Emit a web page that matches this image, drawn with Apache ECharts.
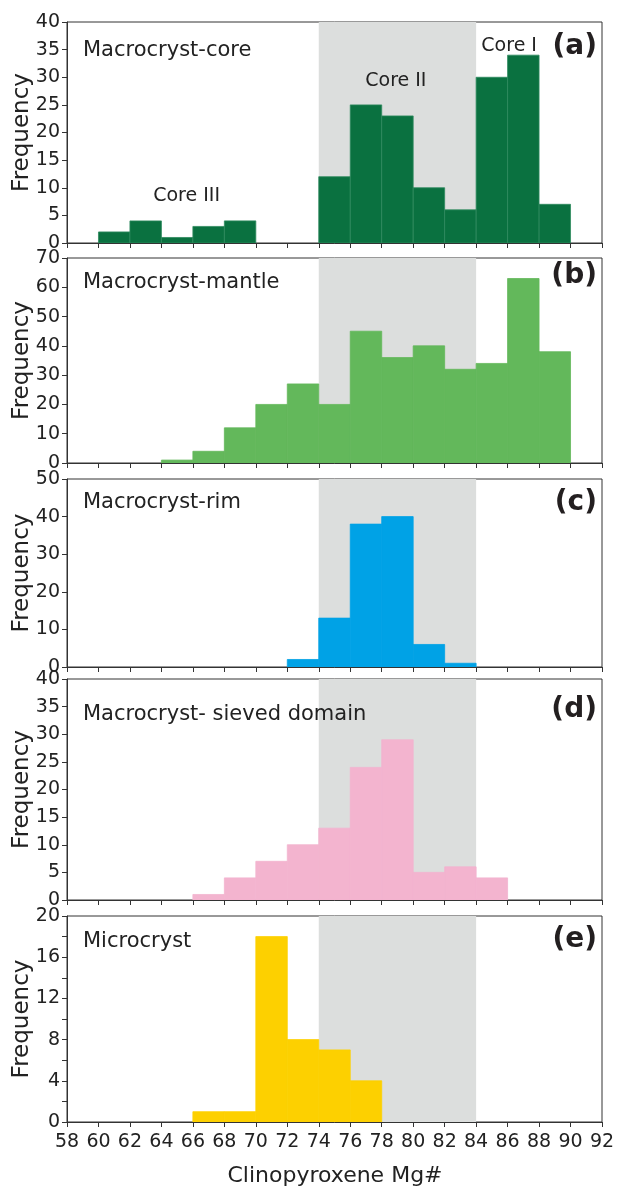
<!DOCTYPE html>
<html>
<head>
<meta charset="utf-8">
<script src="https://cdn.jsdelivr.net/npm/echarts@6/dist/echarts.min.js"></script>
<style>
  html, body { margin: 0; padding: 0; background: #fff; }
  #chart { width: 617px; height: 1188px; }
</style>
</head>
<body>
<div id="chart"></div>
<script>
// Histogram bins: 2-unit wide classes of clinopyroxene Mg#, starting at 58
const binStarts = [58, 60, 62, 64, 66, 68, 70, 72, 74, 76, 78, 80, 82, 84, 86, 88, 90];
const binWidth = 2;

// Frequencies per bin for each textural domain
const coreCounts   = [0, 2, 4, 1, 3, 4, 0, 0, 12, 25, 23, 10, 6, 30, 34, 7, 0];
const mantleCounts = [0, 0, 0, 1, 4, 12, 20, 27, 20, 45, 36, 40, 32, 34, 63, 38, 0];
const rimCounts    = [0, 0, 0, 0, 0, 0, 0, 2, 13, 38, 40, 6, 1, 0, 0, 0, 0];
const sievedCounts = [0, 0, 0, 0, 1, 4, 7, 10, 13, 24, 29, 5, 6, 4, 0, 0, 0];
const microCounts  = [0, 0, 0, 0, 1, 1, 18, 8, 7, 4, 0, 0, 0, 0, 0, 0, 0];

// Shaded Mg# range (Core II population)
const bandRange = [74, 84];

// Y-axis scales per panel
const yMax      = [40, 70, 50, 40, 20];
const yInterval = [5, 10, 10, 5, 2];

// X-axis range and ticks
const xMin = 58, xMax = 92, xInterval = 2;

// Panel annotations
const panelNames   = ['Macrocryst-core', 'Macrocryst-mantle', 'Macrocryst-rim', 'Macrocryst- sieved domain', 'Microcryst'];
const panelLetters = ['(a)', '(b)', '(c)', '(d)', '(e)'];
const coreLabelText = ['Core III', 'Core II', 'Core I'];
const coreLabelX    = [65.6, 78.9, 86.1];
const coreLabelY    = [8.5, 29.4, 35.6];

const counts = [coreCounts, mantleCounts, rimCounts, sievedCounts, microCounts];
const colors = ['#0a7140', '#63b85b', '#00a2e6', '#f3b4cf', '#fdd000'];
const edges  = ['#2f8a5e', '#63b85b', '#00a2e6', '#f3b4cf', '#fdd000'];

const FONT = '"DejaVu Sans", "Liberation Sans", Arial, sans-serif';
const AXIS_COLOR = '#333';
const TEXT_COLOR = '#222';

// Layout of the five stacked plots
const gridLeft = 67, gridWidth = 535;
const gridTops    = [22, 258, 479, 679, 916];
const gridHeights = [221, 205, 188, 221, 206];
const nameY   = [51, 283, 503, 715, 942];
const letterY = [47, 276, 503, 710, 940];

const grids = [], xAxes = [], yAxes = [], series = [], graphics = [];

counts.forEach((arr, i) => {
  grids.push({
    left: gridLeft, top: gridTops[i], width: gridWidth, height: gridHeights[i],
    containLabel: false, outerBoundsMode: 'none',
    show: true, borderColor: AXIS_COLOR, borderWidth: 1, backgroundColor: 'transparent'
  });
  const last = i === counts.length - 1;
  xAxes.push({
    type: 'value', gridIndex: i, min: xMin, max: xMax, interval: xInterval, z: 5,
    axisLine: { show: true, lineStyle: { color: AXIS_COLOR, width: 1 } },
    axisTick: { show: true, inside: false, length: 5, lineStyle: { color: AXIS_COLOR } },
    splitLine: { show: false },
    axisLabel: {
      show: last, margin: 11, color: TEXT_COLOR, fontFamily: FONT, fontSize: 19,
      showMinLabel: true, showMaxLabel: true
    }
  });
  yAxes.push({
    type: 'value', gridIndex: i, min: 0, max: yMax[i], interval: yInterval[i], z: 5,
    name: 'Frequency', nameLocation: 'middle', nameRotate: 90, nameGap: 33,
    nameMoveOverlap: false,
    nameTextStyle: { fontFamily: FONT, fontSize: 23, color: TEXT_COLOR },
    axisLine: { show: true, lineStyle: { color: AXIS_COLOR, width: 1 } },
    axisTick: { show: true, inside: false, length: 5, lineStyle: { color: AXIS_COLOR } },
    splitLine: { show: false },
    axisLabel: {
      margin: 7, color: TEXT_COLOR, fontFamily: FONT, fontSize: 19,
      formatter: (v) => (i === 4 && v % 4 !== 0) ? '' : String(v)
    }
  });

  // Gray band spanning the full plot height
  series.push({
    type: 'custom', xAxisIndex: i, yAxisIndex: i, z: 1, silent: true,
    data: [[bandRange[0], bandRange[1]]],
    renderItem: (params, api) => {
      const a = api.coord([api.value(0), 0]);
      const b = api.coord([api.value(1), 0]);
      const cs = params.coordSys;
      return { type: 'rect', shape: { x: a[0], y: cs.y, width: b[0] - a[0], height: cs.height },
               style: { fill: '#dcdedd' } };
    }
  });

  // Histogram bars
  const barData = [];
  arr.forEach((c, k) => { if (c > 0) barData.push([binStarts[k], binStarts[k] + binWidth, c]); });
  series.push({
    type: 'custom', xAxisIndex: i, yAxisIndex: i, z: 2,
    data: barData,
    renderItem: (params, api) => {
      const top = api.coord([api.value(0), api.value(2)]);
      const bot = api.coord([api.value(1), 0]);
      return { type: 'rect',
               shape: { x: top[0], y: top[1], width: bot[0] - top[0], height: bot[1] - top[1] },
               style: { fill: colors[i], stroke: edges[i], lineWidth: 0.8 } };
    }
  });

  // Panel title and letter
  graphics.push({
    type: 'text', x: 83, y: nameY[i], z: 10,
    style: { text: panelNames[i], font: '21px ' + FONT, fill: TEXT_COLOR,
             align: 'left', verticalAlign: 'middle' }
  });
  graphics.push({
    type: 'text', x: 597, y: letterY[i], z: 10,
    style: { text: panelLetters[i], font: 'bold 28px ' + FONT, fill: '#231f20',
             align: 'right', verticalAlign: 'middle' }
  });
});

// Population labels in the core panel, placed in data space
series.push({
  type: 'custom', xAxisIndex: 0, yAxisIndex: 0, z: 3, silent: true,
  data: coreLabelText.map((t, k) => [coreLabelX[k], coreLabelY[k], k]),
  renderItem: (params, api) => {
    const p = api.coord([api.value(0), api.value(1)]);
    return { type: 'text', x: p[0], y: p[1],
             style: { text: coreLabelText[api.value(2)], font: '19px ' + FONT, fill: TEXT_COLOR,
                      align: 'center', verticalAlign: 'middle' } };
  }
});

// X-axis title
graphics.push({
  type: 'text', x: 335, y: 1176, z: 10,
  style: { text: 'Clinopyroxene Mg#', font: '22px ' + FONT, fill: TEXT_COLOR,
           align: 'center', verticalAlign: 'middle' }
});

const chart = echarts.init(document.getElementById('chart'), null, { renderer: 'canvas' });
chart.setOption({
  animation: false,
  backgroundColor: '#fff',
  grid: grids, xAxis: xAxes, yAxis: yAxes, series: series, graphic: graphics
});
</script>
</body>
</html>
